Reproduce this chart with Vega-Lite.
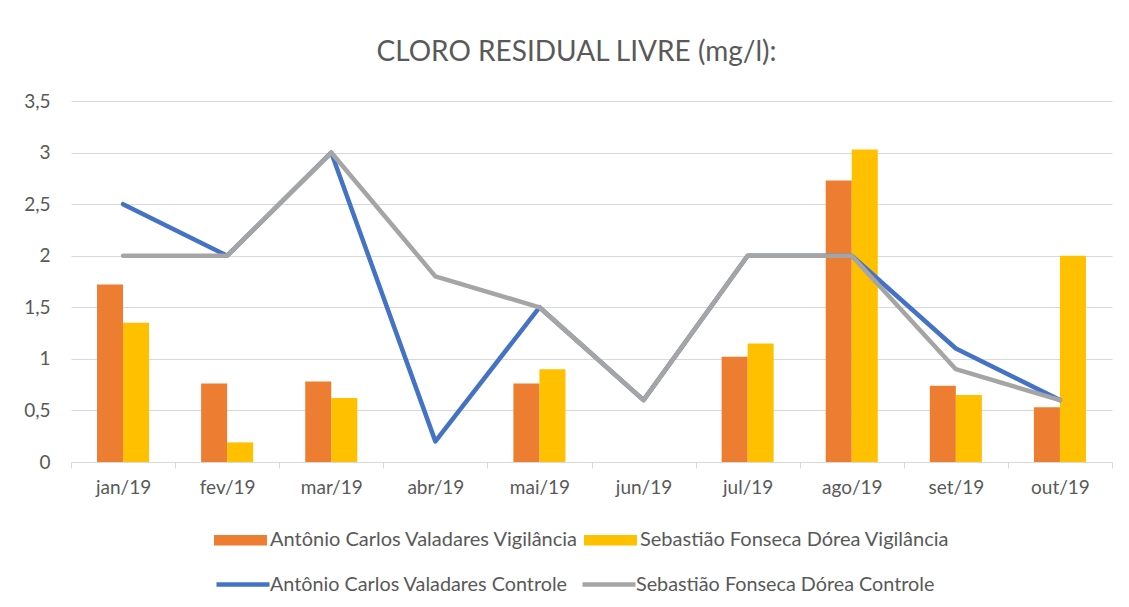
{
  "$schema": "https://vega.github.io/schema/vega-lite/v6.json",
  "autosize": {"type": "none"},
  "width": 1041,
  "height": 361,
  "padding": {"left": 71, "top": 101, "right": 17, "bottom": 145},
  "background": "white",
  "config": {
    "view": {"stroke": null},
    "font": "Lato",
    "locale": {"number": {"decimal": ",", "thousands": ".", "grouping": [3], "currency": ["R$", ""]}},
    "axis": {"labelFont": "Lato", "labelFontSize": 19, "labelColor": "#595959", "title": null}
  },
  "title": {
    "text": "CLORO RESIDUAL LIVRE (mg/l):",
    "font": "Lato",
    "fontSize": 28,
    "fontWeight": "normal",
    "color": "#595959",
    "anchor": "middle",
    "dx": -15,
    "offset": 25
  },
  "datasets": {
    "bars": [
      {"mes": "jan/19", "serie": "Antônio Carlos Valadares Vigilância", "valor": 1.72},
      {"mes": "jan/19", "serie": "Sebastião Fonseca Dórea Vigilância", "valor": 1.35},
      {"mes": "fev/19", "serie": "Antônio Carlos Valadares Vigilância", "valor": 0.76},
      {"mes": "fev/19", "serie": "Sebastião Fonseca Dórea Vigilância", "valor": 0.19},
      {"mes": "mar/19", "serie": "Antônio Carlos Valadares Vigilância", "valor": 0.78},
      {"mes": "mar/19", "serie": "Sebastião Fonseca Dórea Vigilância", "valor": 0.62},
      {"mes": "mai/19", "serie": "Antônio Carlos Valadares Vigilância", "valor": 0.76},
      {"mes": "mai/19", "serie": "Sebastião Fonseca Dórea Vigilância", "valor": 0.9},
      {"mes": "jul/19", "serie": "Antônio Carlos Valadares Vigilância", "valor": 1.02},
      {"mes": "jul/19", "serie": "Sebastião Fonseca Dórea Vigilância", "valor": 1.15},
      {"mes": "ago/19", "serie": "Antônio Carlos Valadares Vigilância", "valor": 2.73},
      {"mes": "ago/19", "serie": "Sebastião Fonseca Dórea Vigilância", "valor": 3.03},
      {"mes": "set/19", "serie": "Antônio Carlos Valadares Vigilância", "valor": 0.74},
      {"mes": "set/19", "serie": "Sebastião Fonseca Dórea Vigilância", "valor": 0.65},
      {"mes": "out/19", "serie": "Antônio Carlos Valadares Vigilância", "valor": 0.53},
      {"mes": "out/19", "serie": "Sebastião Fonseca Dórea Vigilância", "valor": 2.0}
    ],
    "lines": [
      {"mes": "jan/19", "serie": "Antônio Carlos Valadares Controle", "valor": 2.5},
      {"mes": "fev/19", "serie": "Antônio Carlos Valadares Controle", "valor": 2.0},
      {"mes": "mar/19", "serie": "Antônio Carlos Valadares Controle", "valor": 3.0},
      {"mes": "abr/19", "serie": "Antônio Carlos Valadares Controle", "valor": 0.2},
      {"mes": "mai/19", "serie": "Antônio Carlos Valadares Controle", "valor": 1.5},
      {"mes": "jun/19", "serie": "Antônio Carlos Valadares Controle", "valor": 0.6},
      {"mes": "jul/19", "serie": "Antônio Carlos Valadares Controle", "valor": 2.0},
      {"mes": "ago/19", "serie": "Antônio Carlos Valadares Controle", "valor": 2.0},
      {"mes": "set/19", "serie": "Antônio Carlos Valadares Controle", "valor": 1.1},
      {"mes": "out/19", "serie": "Antônio Carlos Valadares Controle", "valor": 0.6},
      {"mes": "jan/19", "serie": "Sebastião Fonseca Dórea Controle", "valor": 2.0},
      {"mes": "fev/19", "serie": "Sebastião Fonseca Dórea Controle", "valor": 2.0},
      {"mes": "mar/19", "serie": "Sebastião Fonseca Dórea Controle", "valor": 3.0},
      {"mes": "abr/19", "serie": "Sebastião Fonseca Dórea Controle", "valor": 1.8},
      {"mes": "mai/19", "serie": "Sebastião Fonseca Dórea Controle", "valor": 1.5},
      {"mes": "jun/19", "serie": "Sebastião Fonseca Dórea Controle", "valor": 0.6},
      {"mes": "jul/19", "serie": "Sebastião Fonseca Dórea Controle", "valor": 2.0},
      {"mes": "ago/19", "serie": "Sebastião Fonseca Dórea Controle", "valor": 2.0},
      {"mes": "set/19", "serie": "Sebastião Fonseca Dórea Controle", "valor": 0.9},
      {"mes": "out/19", "serie": "Sebastião Fonseca Dórea Controle", "valor": 0.6}
    ]
  },
  "layer": [
    {
      "data": {"name": "bars"},
      "mark": {"type": "bar"},
      "encoding": {
        "x": {
          "field": "mes", "type": "nominal",
          "sort": ["jan/19", "fev/19", "mar/19", "abr/19", "mai/19", "jun/19", "jul/19", "ago/19", "set/19", "out/19"],
          "scale": {"domain": ["jan/19", "fev/19", "mar/19", "abr/19", "mai/19", "jun/19", "jul/19", "ago/19", "set/19", "out/19"], "paddingInner": 0, "paddingOuter": 0},
          "axis": {"labelAngle": 0, "domainColor": "#D9D9D9", "tickColor": "#D9D9D9", "tickBand": "extent", "tickSize": 6, "labelPadding": 10, "grid": false}
        },
        "xOffset": {
          "field": "serie", "type": "nominal",
          "scale": {"domain": ["Antônio Carlos Valadares Vigilância", "Sebastião Fonseca Dórea Vigilância"], "paddingInner": 0, "paddingOuter": 1.125}
        },
        "y": {
          "field": "valor", "type": "quantitative",
          "scale": {"domain": [0, 3.5]},
          "axis": {"values": [0, 0.5, 1, 1.5, 2, 2.5, 3, 3.5], "format": ".1~f", "domain": false, "ticks": false, "gridColor": "#D9D9D9", "labelPadding": 21}
        },
        "fill": {
          "field": "serie", "type": "nominal",
          "scale": {"domain": ["Antônio Carlos Valadares Vigilância", "Sebastião Fonseca Dórea Vigilância"], "range": ["#ED7D31", "#FFC000"]},
          "legend": {
            "orient": "none", "legendX": 143, "legendY": 412.5, "direction": "horizontal", "columns": 2,
            "columnPadding": 5, "symbolType": "M-1,-0.2H1V0.2H-1Z", "symbolSize": 2809, "symbolStrokeWidth": 0,
            "labelFont": "Lato", "labelFontSize": 20, "labelColor": "#595959", "labelLimit": 500, "labelOffset": 3,
            "title": null, "padding": 0
          }
        }
      }
    },
    {
      "data": {"name": "lines"},
      "mark": {"type": "line", "strokeWidth": 4.5, "strokeCap": "round", "strokeJoin": "round"},
      "encoding": {
        "x": {"field": "mes", "type": "nominal", "sort": ["jan/19", "fev/19", "mar/19", "abr/19", "mai/19", "jun/19", "jul/19", "ago/19", "set/19", "out/19"]},
        "y": {"field": "valor", "type": "quantitative"},
        "stroke": {
          "field": "serie", "type": "nominal",
          "scale": {"domain": ["Antônio Carlos Valadares Controle", "Sebastião Fonseca Dórea Controle"], "range": ["#4472C4", "#A5A5A5"]},
          "legend": {
            "orient": "none", "legendX": 143, "legendY": 454.5, "direction": "horizontal", "columns": 2,
            "columnPadding": 5, "symbolType": "stroke", "symbolSize": 2809, "symbolStrokeWidth": 4.5,
            "labelFont": "Lato", "labelFontSize": 19.8, "labelColor": "#595959", "labelLimit": 500, "labelOffset": -2,
            "title": null, "padding": 0
          }
        }
      }
    }
  ]
}
